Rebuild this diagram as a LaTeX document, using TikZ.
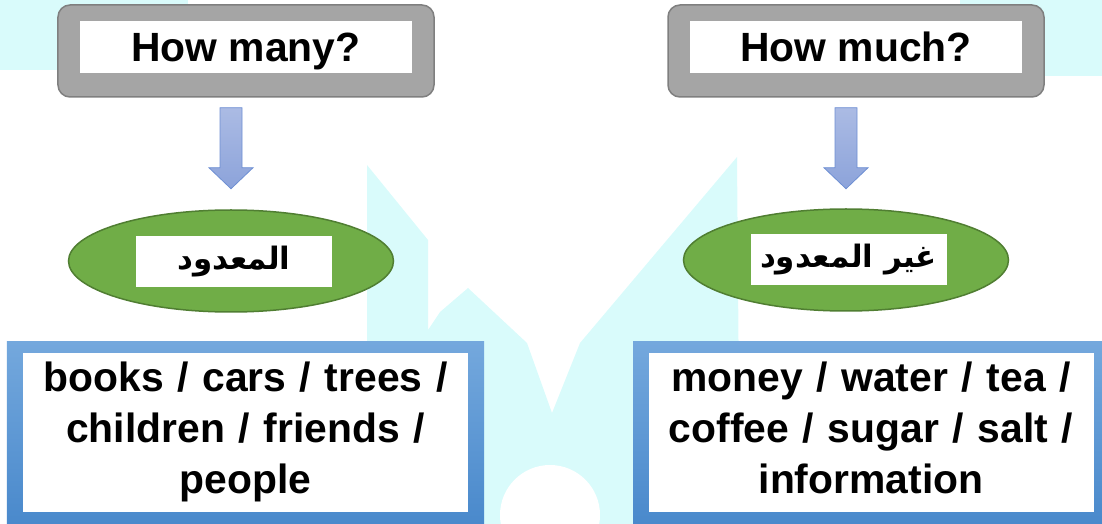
\documentclass[tikz,border=0pt]{standalone}
\usepackage{fontspec}
\setmainfont{Liberation Sans}
\newfontfamily\arabicfont[Script=Arabic]{DejaVu Sans}
\TeXXeTstate=1
\usetikzlibrary{shapes.geometric,calc}
\definecolor{headgray}{HTML}{A5A5A5}
\definecolor{headedge}{HTML}{7F7F7F}
\definecolor{ovalgreen}{HTML}{70AD47}
\definecolor{ovaledge}{HTML}{507E32}
\definecolor{frametop}{HTML}{74A8DD}
\definecolor{framebottom}{HTML}{4888CB}
\definecolor{arrowtop}{HTML}{ABBBE4}
\definecolor{arrowbottom}{HTML}{8CA3DA}
\definecolor{arrowedge}{HTML}{6E8FD3}
\definecolor{wmcyan}{HTML}{D9FBFB}
\tikzset{
  headbox/.style={draw=headedge, fill=headgray, line width=1.5bp, rounded corners=12bp,
    minimum width=376bp, minimum height=92bp},
  qbox/.style={fill=white, inner sep=0pt, minimum width=332bp, text height=41bp, text depth=11bp,
    font=\fontsize{41}{49}\selectfont\bfseries},
  oval/.style={ellipse, draw=ovaledge, fill=ovalgreen, line width=1.5bp,
    minimum width=325bp, minimum height=102bp},
  tagbox/.style={fill=white, inner sep=0pt, minimum width=196bp, minimum height=51bp,
    font=\arabicfont\bfseries\fontsize{31}{36}\selectfont},
  listframe/.style={top color=frametop, bottom color=framebottom, inner sep=0pt,
    minimum width=477bp, minimum height=188bp},
  listbox/.style={fill=white, inner sep=0pt, text width=445bp, minimum height=159bp, align=center,
    font=\fontsize{41}{51}\selectfont\bfseries},
  blockarrow/.style={draw=arrowedge, line width=0.8bp, top color=arrowtop, bottom color=arrowbottom},
  wm/.style={fill=wmcyan}
}
\begin{document}
\begin{tikzpicture}[x=1bp,y=-1bp]
\useasboundingbox (0,0) rectangle (1102,524);
% faint background
\fill[wm] (0,0) rectangle (188,70);
\fill[wm] (960,0) rectangle (1102,76);
\fill[wm] (367,165) -- (428,240) -- (428,330) -- (440,312) -- (468,288) -- (527,343) -- (552,413)
  -- (580,343) -- (737,157) -- (740,524) -- (367,524) -- cycle;
\fill[white] (550,515) circle (50);
%%
\node (manyHead) at (246,51) [headbox] {};
\node (manyQ) at (246,47) [qbox] {How many?};
\node (muchHead) at (856,51) [headbox] {};
\node (muchQ) at (856,47) [qbox] {How much?};
\node (manyOval) at (231,261) [oval] {};
\node (manyTag) at (234,261.5) [tagbox] {\beginR المعدود\endR};
\node (muchOval) at (846,260) [oval] {};
\node (muchTag) at (848.5,260) [tagbox] {\beginR غير المعدود\endR};
\node (manyFrame) at (245.5,436) [listframe] {};
\node (manyList) at (245.5,432.5) [listbox] {\strut books / cars / trees /\\ children / friends /\\ people\strut};
\node (muchFrame) at (871.5,436) [listframe] {};
\node (muchList) at (871,432.5) [listbox] {\strut money / water / tea /\\ coffee / sugar / salt /\\ information\strut};
%
\draw[blockarrow] ($(manyHead.south -| manyOval.north)+(-11,10)$) -- ++(22,0) -- ++(0,60) -- ++(11,0)
  -- ++(-22,21) -- ++(-22,-21) -- ++(11,0) -- cycle;
\draw[blockarrow] ($(muchHead.south -| muchOval.north)+(-11,10)$) -- ++(22,0) -- ++(0,60) -- ++(11,0)
  -- ++(-22,21) -- ++(-22,-21) -- ++(11,0) -- cycle;
%
\end{tikzpicture}
\end{document}
